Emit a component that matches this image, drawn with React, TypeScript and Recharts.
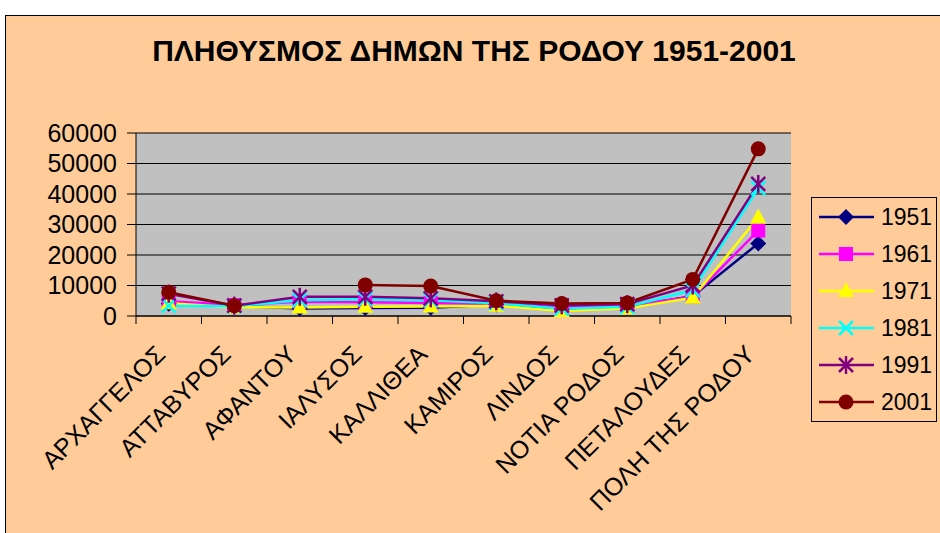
import React from 'react'
import { LineChart, Line, XAxis, YAxis, CartesianGrid, Legend } from 'recharts'

const categories = [
  'ΑΡΧΑΓΓΕΛΟΣ',
  'ΑΤΤΑΒΥΡΟΣ',
  'ΑΦΑΝΤΟΥ',
  'ΙΑΛΥΣΟΣ',
  'ΚΑΛΛΙΘΕΑ',
  'ΚΑΜΙΡΟΣ',
  'ΛΙΝΔΟΣ',
  'ΝΟΤΙΑ ΡΟΔΟΣ',
  'ΠΕΤΑΛΟΥΔΕΣ',
  'ΠΟΛΗ ΤΗΣ ΡΟΔΟΥ',
]

const pop1951 = [4000, 3300, 2500, 2600, 2700, 3800, 2200, 3000, 6500, 23800]
const pop1961 = [4800, 3600, 4700, 4500, 4300, 4000, 2800, 3400, 6300, 28000]
const pop1971 = [4200, 2900, 2800, 3000, 3100, 3400, 1600, 2500, 6000, 32300]
const pop1981 = [3400, 3200, 5200, 5500, 5200, 4200, 2400, 3000, 8500, 41900]
const pop1991 = [7300, 3400, 6300, 6300, 5800, 4800, 3500, 3900, 10000, 43300]
const pop2001 = [7800, 3400, null, 10200, 9800, 5000, 4100, 4300, 12000, 54800]

const yTicks = [0, 10000, 20000, 30000, 40000, 50000, 60000]

type Shape = 'diamond' | 'square' | 'triangle' | 'x' | 'star' | 'circle'

const series: { key: string; name: string; color: string; shape: Shape; values: (number | null)[] }[] = [
  { key: 'y1951', name: '1951', color: '#000080', shape: 'diamond', values: pop1951 },
  { key: 'y1961', name: '1961', color: '#FF00FF', shape: 'square', values: pop1961 },
  { key: 'y1971', name: '1971', color: '#FFFF00', shape: 'triangle', values: pop1971 },
  { key: 'y1981', name: '1981', color: '#00FFFF', shape: 'x', values: pop1981 },
  { key: 'y1991', name: '1991', color: '#800080', shape: 'star', values: pop1991 },
  { key: 'y2001', name: '2001', color: '#800000', shape: 'circle', values: pop2001 },
]

const data = categories.map((name, i) => {
  const row: Record<string, string | number | null> = { name }
  series.forEach((s) => {
    row[s.key] = s.values[i]
  })
  return row
})

const FONT = 'Arial, "Liberation Sans", sans-serif'
const BG = '#FFCC99'

function marker(shape: Shape, color: string, cx: number, cy: number) {
  switch (shape) {
    case 'diamond':
      return <polygon points={`${cx},${cy - 8} ${cx + 8},${cy} ${cx},${cy + 8} ${cx - 8},${cy}`} fill={color} />
    case 'square':
      return <rect x={cx - 7} y={cy - 7} width={14} height={14} fill={color} />
    case 'triangle':
      return <polygon points={`${cx},${cy - 9} ${cx + 8},${cy + 6} ${cx - 8},${cy + 6}`} fill={color} />
    case 'x':
      return (
        <g stroke={color} strokeWidth={2.5}>
          <line x1={cx - 7} y1={cy - 7} x2={cx + 7} y2={cy + 7} />
          <line x1={cx - 7} y1={cy + 7} x2={cx + 7} y2={cy - 7} />
        </g>
      )
    case 'star':
      return (
        <g stroke={color} strokeWidth={2.5}>
          <line x1={cx - 7} y1={cy - 7} x2={cx + 7} y2={cy + 7} />
          <line x1={cx - 7} y1={cy + 7} x2={cx + 7} y2={cy - 7} />
          <line x1={cx} y1={cy - 9} x2={cx} y2={cy + 9} />
        </g>
      )
    default:
      return <circle cx={cx} cy={cy} r={7.5} fill={color} />
  }
}

const makeDot = (shape: Shape, color: string) => (props: any) => {
  const { cx, cy, value, index } = props
  if (cx == null || cy == null || value == null) return <g key={index} />
  return <g key={index}>{marker(shape, color, cx, cy)}</g>
}

const HALF_BAND = 32.75

function CategoryTick(props: any) {
  const { x, y, payload, index } = props
  return (
    <g>
      <line x1={x - HALF_BAND} y1={y} x2={x - HALF_BAND} y2={y + 8} stroke="#000" />
      {index === categories.length - 1 && (
        <line x1={x + HALF_BAND} y1={y} x2={x + HALF_BAND} y2={y + 8} stroke="#000" />
      )}
      <g transform={`translate(${x - 2},${y + 40})`}>
        <text textAnchor="end" transform="rotate(-45)" fontSize={25} fontFamily={FONT} fill="#000">
          {payload.value}
        </text>
      </g>
    </g>
  )
}

function LegendBox() {
  return (
    <svg width={127} height={226} style={{ display: 'block' }}>
      <rect x={0.5} y={0.5} width={125} height={224} fill={BG} stroke="#000" />
      {series.map((s, i) => {
        const cy = 20 + i * 37
        return (
          <g key={s.key}>
            <line x1={8} y1={cy} x2={63} y2={cy} stroke={s.color} strokeWidth={2.5} />
            {marker(s.shape, s.color, 35, cy)}
            <text x={70} y={cy + 8} fontSize={23} fontFamily={FONT} fill="#000">
              {s.name}
            </text>
          </g>
        )
      })}
    </svg>
  )
}

export default function App() {
  return (
    <div style={{ position: 'fixed', left: 0, top: 0, width: 940, height: 533, background: '#fff', overflow: 'hidden' }}>
      <div
        style={{
          position: 'absolute',
          left: 5,
          top: 15,
          width: 960,
          height: 540,
          background: BG,
          borderLeft: '1.5px solid #000',
          borderTop: '1.5px solid #000',
        }}
      />
      <div
        style={{
          position: 'absolute',
          left: 0,
          width: 948,
          top: 34,
          textAlign: 'center',
          fontFamily: FONT,
          fontWeight: 'bold',
          fontSize: 30,
          lineHeight: '34px',
        }}
      >
        ΠΛΗΘΥΣΜΟΣ ΔΗΜΩΝ ΤΗΣ ΡΟΔΟΥ 1951-2001
      </div>
      <div style={{ position: 'absolute', left: 0, top: 0 }}>
        <LineChart width={940} height={533} data={data} margin={{ top: 133, right: 149, bottom: 17, left: 0 }}>
          <CartesianGrid vertical={false} stroke="#000" fill="#C0C0C0" />
          <XAxis
            dataKey="name"
            interval={0}
            padding={{ left: HALF_BAND, right: HALF_BAND }}
            axisLine={{ stroke: '#000' }}
            tickLine={false}
            tickSize={0}
            tickMargin={0}
            height={200}
            tick={<CategoryTick />}
          />
          <YAxis
            domain={[0, 60000]}
            ticks={yTicks}
            interval={0}
            width={136}
            axisLine={{ stroke: '#000' }}
            tickLine={{ stroke: '#000' }}
            tickSize={9}
            tickMargin={10}
            tick={{ fontSize: 25, fontFamily: FONT, fill: '#000' }}
          />
          <Legend
            layout="horizontal"
            align="center"
            verticalAlign="middle"
            content={() => <LegendBox />}
            wrapperStyle={{ left: 811, top: 197, width: 127, height: 226 }}
          />
          {series.map((s) => (
            <Line
              key={s.key}
              type="linear"
              dataKey={s.key}
              name={s.name}
              stroke={s.color}
              strokeWidth={2.5}
              dot={makeDot(s.shape, s.color)}
              activeDot={false}
              connectNulls={false}
              isAnimationActive={false}
            />
          ))}
        </LineChart>
      </div>
    </div>
  )
}
